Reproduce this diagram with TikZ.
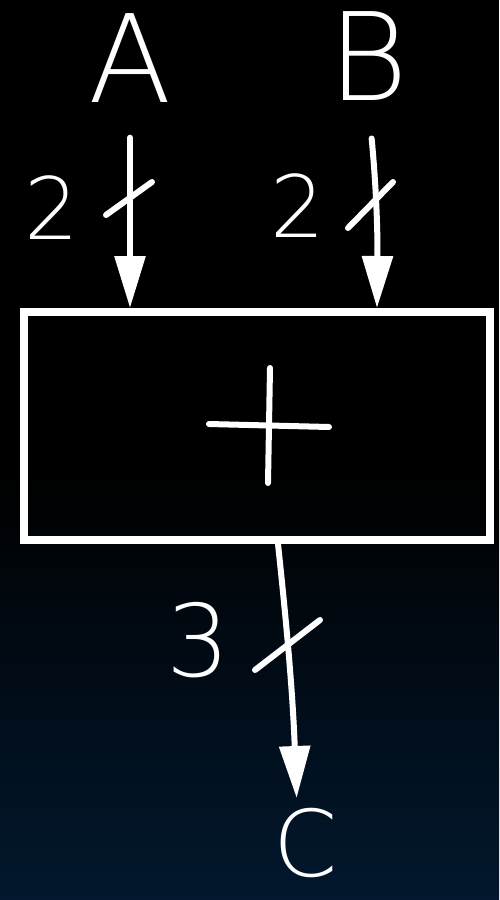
\documentclass[tikz,border=0pt]{standalone}
\usepackage{fontspec}
\newfontfamily\hand{DejaVu Sans ExtraLight}
\usetikzlibrary{arrows.meta}
\definecolor{navybg}{RGB}{2,24,46}
\begin{document}
\begin{tikzpicture}[x=1pt,y=-1pt,
  chalk/.style={white,line width=6pt,line cap=round,line join=round},
  arr/.style={chalk,-{Triangle[width=30pt,length=52pt]}},
  letter/.style={text=white,inner sep=0pt,font=\hand\fontsize{122}{122}\selectfont},
  digit/.style={text=white,inner sep=0pt,font=\hand\fontsize{86}{86}\selectfont}]
\useasboundingbox (0,0) rectangle (499,900);
\fill[black] (0,0) rectangle (499,900);
\shade[top color=black,bottom color=navybg] (0,470) rectangle (499,900);
% nodes
\node[letter] (A) at (130,58) {A};
\node[letter] (B) at (368,56) {B};
\node[text=white,inner sep=0pt,font=\hand\fontsize{92}{92}\selectfont] (C) at (306,843) {C};
\node[draw=white,line width=8pt,minimum width=466pt,minimum height=228pt,inner sep=0pt] (adder) at (257,426) {};
\node[digit] (n2a) at (52,208) {2};
\node[digit] (n2b) at (298,206) {2};
\node[text=white,inner sep=0pt,font=\hand\fontsize{100}{100}\selectfont] (n3) at (198,640) {3};
% plus
\draw[chalk] ([xshift=-48pt,yshift=2pt]adder.center) -- ([xshift=72pt,yshift=-1pt]adder.center);
\draw[chalk] ([xshift=11pt,yshift=-57pt]adder.center) -- ([xshift=13pt,yshift=58pt]adder.center);
% connectors
\draw[arr,shorten <=35pt] (A.south) -- (A.south |- adder.north);
\draw[arr,shorten <=38pt] (B.south) to[bend left=3] ([xshift=9pt]B.south |- adder.north);
\draw[arr,shorten >=10pt] ([xshift=21pt]adder.south) to[bend left=2] ([xshift=-9pt]C.north);
% bus-width slashes
\draw[chalk] (106,215) -- (152,182);
\draw[chalk] (348,228) -- (393,182);
\draw[chalk] (255,670) -- (320,620);
\end{tikzpicture}
\end{document}
